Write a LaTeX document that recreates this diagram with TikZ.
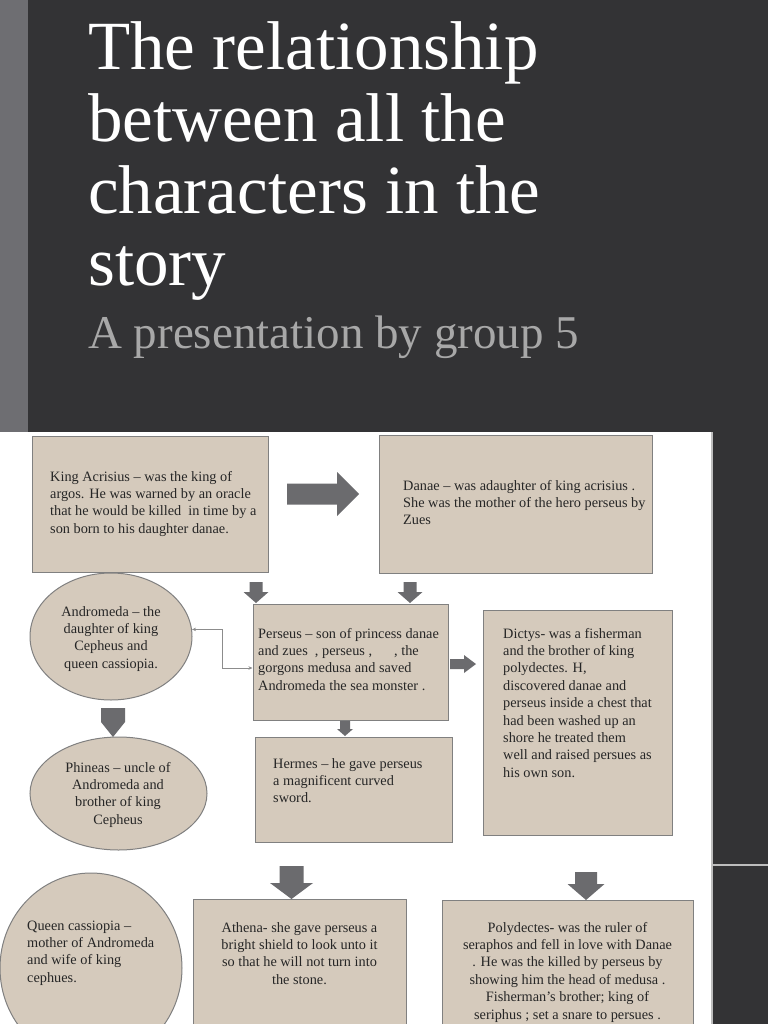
\documentclass[tikz,border=0pt]{standalone}
\usepackage{fontspec}
\setmainfont{Liberation Serif}
\usetikzlibrary{arrows.meta,shapes.geometric}
\definecolor{bgdark}{HTML}{333335}
\definecolor{stripgray}{HTML}{6E6E72}
\definecolor{boxfill}{HTML}{D5CABC}
\definecolor{boxline}{HTML}{808080}
\definecolor{arrowfill}{HTML}{6B6B6E}
\definecolor{subgray}{HTML}{A8A8A8}
\definecolor{txtcol}{HTML}{262626}
\definecolor{edgegray}{HTML}{BDBDBD}
\definecolor{conngray}{HTML}{8C8C8C}
% cx, top, shaft width, head width, shaft end y, tip y
\newcommand\downblock[6]{%
  \fill[arrowfill] ({#1-#3/2},#2) -- ({#1+#3/2},#2) -- ({#1+#3/2},#5) -- ({#1+#4/2},#5)
    -- (#1,#6) -- ({#1-#4/2},#5) -- ({#1-#3/2},#5) -- cycle;}
% left x, cy, shaft height, head height, shaft end x, tip x
\newcommand\rightblock[6]{%
  \fill[arrowfill] (#1,{#2-#3/2}) -- (#5,{#2-#3/2}) -- (#5,{#2-#4/2}) -- (#6,#2)
    -- (#5,{#2+#4/2}) -- (#5,{#2+#3/2}) -- (#1,{#2+#3/2}) -- cycle;}
\begin{document}
\begin{tikzpicture}[x=1pt,y=-1pt,
  boxnode/.style={rectangle, draw=boxline, fill=boxfill, line width=1pt, inner sep=0pt},
  ovalnode/.style={ellipse, draw=boxline, fill=boxfill, line width=1pt, inner sep=0pt},
  lbl/.style={inner sep=0pt, text=txtcol, font=\fontsize{14.3}{17.4}\selectfont},
  conn/.style={draw=conngray, line width=0.8pt, {Stealth[length=4pt,width=3.5pt]}-{Stealth[length=4pt,width=3.5pt]}}]
\clip (0,0) rectangle (768,1024);
\fill[bgdark] (0,0) rectangle (768,1024);
\fill[stripgray] (0,0) rectangle (28,432);
\fill[white] (0,432) rectangle (711,1024);
\draw[edgegray, line width=1.5pt] (711.8,432) -- (711.8,1024);
\draw[edgegray, line width=1.2pt] (712.5,865) -- (768,865);

% title
\node[inner sep=0pt, anchor=base west, text=white, font=\fontsize{69}{72}\selectfont] (title) at (88,70)
  {\parbox[t]{600pt}{\raggedright The relationship\\between all the\\characters in the\\story}};
\node[inner sep=0pt, anchor=base west, text=subgray, font=\fontsize{47}{52}\selectfont] (subtitle) at (88,348)
  {A presentation by group 5};

% boxes
\node[boxnode, minimum width=236pt, minimum height=136pt] (acr) at (150,504) {};
\node[boxnode, minimum width=273pt, minimum height=138pt] (dan) at (515.5,504) {};
\node[boxnode, minimum width=195pt, minimum height=116pt] (pers) at (350.5,662) {};
\node[boxnode, minimum width=189pt, minimum height=225pt] (dic) at (577.5,722.5) {};
\node[boxnode, minimum width=197pt, minimum height=105pt] (her) at (353.5,789.5) {};
\node[boxnode, minimum width=213pt, minimum height=141pt] (ath) at (299.5,969.5) {};
\node[boxnode, minimum width=251pt, minimum height=140pt] (pol) at (567.5,970) {};
\node[ovalnode, minimum width=162pt, minimum height=127pt] (andr) at (111,636.5) {};
\node[ovalnode, minimum width=177pt, minimum height=113pt] (phin) at (118.5,793.5) {};
\node[ovalnode, minimum width=182pt, minimum height=190pt] (queen) at (91,968) {};

% block arrows
\rightblock{287}{494}{21}{44}{337}{359}
\downblock{256}{582}{13}{25}{592}{603}
\downblock{410}{582}{13}{25}{592}{603}
\rightblock{450}{664}{10}{18}{464}{476}
\downblock{345}{721}{10}{16}{729}{736}
\downblock{113}{708}{24}{24}{722}{737}
\downblock{291.5}{866}{24}{43}{883}{899}
\downblock{586}{872}{22}{37}{884}{900}

% connector Andromeda <-> Perseus
\coordinate (bend) at (222,640);
\coordinate (pw) at ([yshift=-6pt]pers.west);
\draw[conn] (andr.5) -- (bend |- andr.5) -- (bend |- pw) -- (pw);

% texts
\node[lbl, anchor=base west] (tacr) at (50,481)
  {\parbox[t]{230pt}{\raggedright King Acrisius -- was the king of\\argos. He was warned by an oracle\\that he would be killed\ \ in time by a\\son born to his daughter danae.}};
\node[lbl, anchor=base west] (tdan) at (403,490)
  {\parbox[t]{260pt}{\raggedright Danae -- was adaughter of king acrisius .\\She was the mother of the hero perseus by\\Zues}};
\node[lbl, anchor=base] (tandr) at (111,616)
  {\parbox[t]{160pt}{\centering Andromeda -- the\\daughter of king\\Cepheus and\\queen cassiopia.}};
\node[lbl, anchor=base west] (tpers) at (258,638)
  {\parbox[t]{200pt}{\raggedright Perseus -- son of princess danae\\and zues\ \ , perseus ,\hspace{22pt}, the\\gorgons medusa and saved\\Andromeda the sea monster .}};
\node[lbl, anchor=base west] (tdic) at (503,638)
  {\parbox[t]{200pt}{\raggedright Dictys- was a fisherman\\and the brother of king\\polydectes. H,\\discovered danae and\\perseus inside a chest that\\had been washed up an\\shore he treated them\\well and raised persues as\\his own son.}};
\node[lbl, anchor=base west] (ther) at (273,768)
  {\parbox[t]{200pt}{\raggedright Hermes -- he gave perseus\\a magnificent curved\\sword.}};
\node[lbl, anchor=base] (tphin) at (118,772)
  {\parbox[t]{170pt}{\centering Phineas -- uncle of\\Andromeda and\\brother of king\\Cepheus}};
\node[lbl, anchor=base west] (tqueen) at (27,930)
  {\parbox[t]{160pt}{\raggedright Queen cassiopia --\\mother of Andromeda\\and wife of king\\cephues.}};
\node[lbl, anchor=base] (tath) at (299.5,932)
  {\parbox[t]{210pt}{\centering Athena- she gave perseus a\\bright shield to look unto it\\so that he will not turn into\\the stone.}};
\node[lbl, anchor=base] (tpol) at (567.5,932)
  {\parbox[t]{250pt}{\centering Polydectes- was the ruler of\\seraphos and fell in love with Danae\\. He was the killed by perseus by\\showing him the head of medusa .\\Fisherman’s brother; king of\\seriphus ; set a snare to persues .}};
\end{tikzpicture}
\end{document}
